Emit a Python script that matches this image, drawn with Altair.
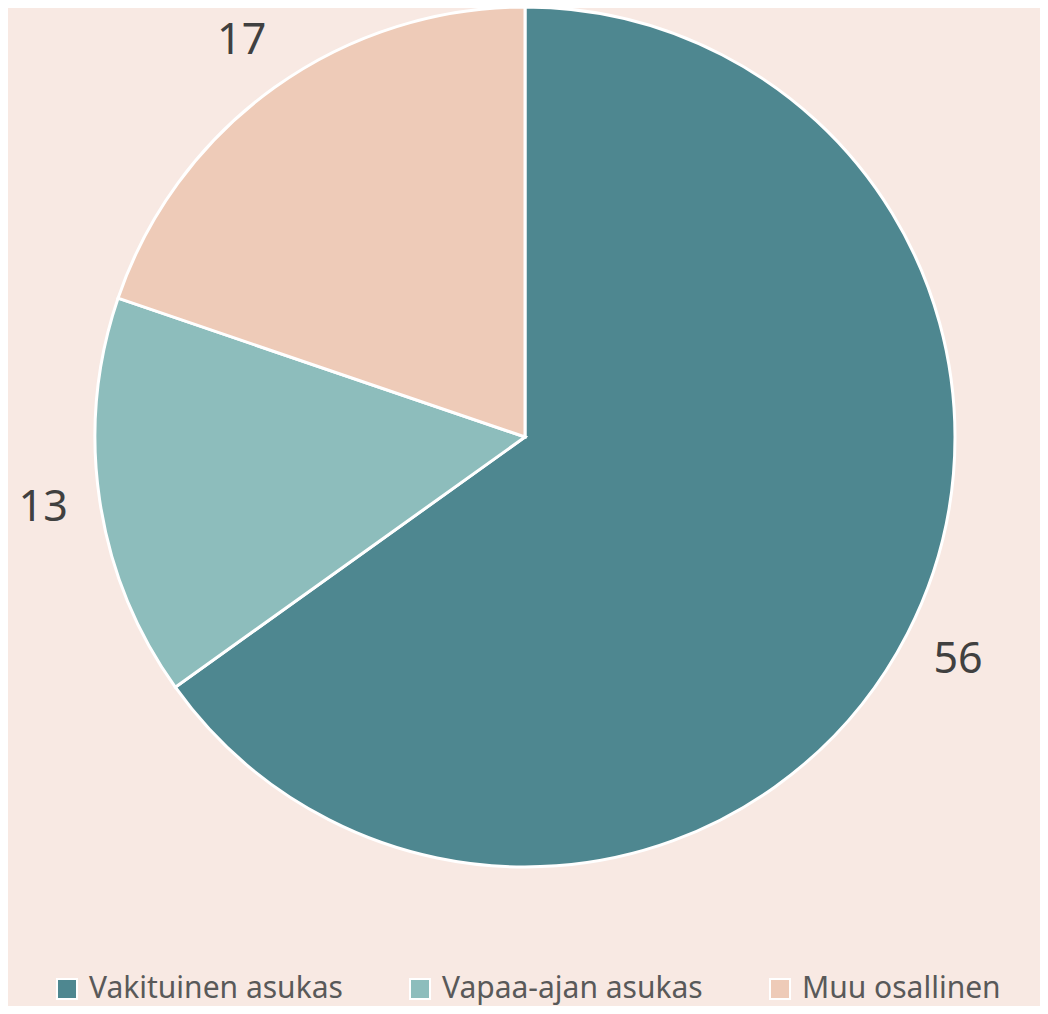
import altair as alt
import pandas as pd

categories = ["Vakituinen asukas", "Vapaa-ajan asukas", "Muu osallinen"]
values = [56, 13, 17]
colors = ["#4E8790", "#8DBDBC", "#EECBB8"]

df = pd.DataFrame({"category": categories, "value": values, "order": [0, 1, 2]})

cx, cy = 517, 429

base = alt.Chart(df).encode(
    theta=alt.Theta("value:Q", stack=True),
    order=alt.Order("order:Q"),
    x=alt.value(cx),
    y=alt.value(cy),
)

pie = base.mark_arc(outerRadius=430, stroke="white", strokeWidth=3).encode(
    color=alt.Color(
        "category:N",
        sort=categories,
        scale=alt.Scale(domain=categories, range=colors),
        legend=alt.Legend(
            title=None,
            orient="none",
            legendX=44,
            legendY=966,
            direction="horizontal",
            symbolType="square",
            symbolSize=400,
            symbolStrokeColor="white",
            symbolStrokeWidth=2,
            symbolOpacity=1,
            labelFont="Noto Sans",
            labelFontSize=30,
            labelColor="#595959",
            labelLimit=400,
            columnPadding=62,
            labelOffset=7,
        ),
    )
)

labels = base.mark_text(radius=487, font="Noto Sans", fontSize=43, color="#404040").encode(
    text=alt.Text("value:Q")
)

chart = (
    alt.layer(pie, labels)
    .properties(
        width=1032,
        height=998,
        autosize=alt.AutoSizeParams(type="none"),
        padding=0,
        background="#F8E9E3",
    )
    .configure_view(stroke=None)
)

chart.save("out.html", embed_options={"renderer": "svg", "actions": False})
